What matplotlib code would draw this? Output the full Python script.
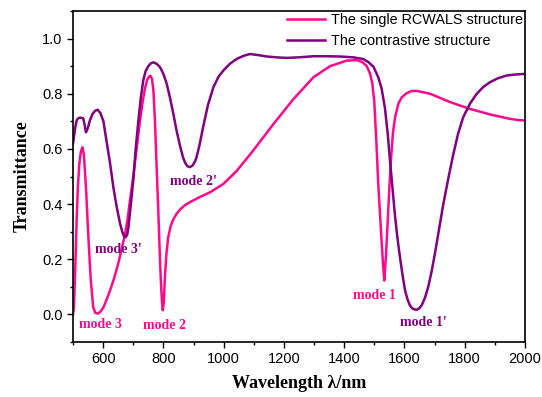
import matplotlib
matplotlib.use('Agg')
import matplotlib.pyplot as plt
from matplotlib.ticker import MultipleLocator

# single RCWALS structure
wl_single = [500, 503, 507, 512, 516, 521, 526, 531, 536, 543, 551, 559, 567, 574, 582, 591,
             601, 612, 623, 636, 650, 662, 673, 681, 689, 700, 711, 722, 731, 739, 746, 752,
             757, 762, 767, 772, 777, 783, 787, 791, 795, 798, 801, 805, 810, 816, 824, 833,
             844, 855, 870, 888, 920, 955, 999, 1043, 1098, 1165, 1231, 1298, 1353, 1408,
             1441, 1460, 1475, 1485, 1493, 1500, 1507, 1513, 1519, 1524, 1529, 1533, 1538,
             1544, 1550, 1555, 1562, 1569, 1580, 1591, 1607, 1624, 1641, 1660, 1685, 1718,
             1751, 1785, 1818, 1851, 1884, 1917, 1950, 1975, 2000]
t_single = [0.0, 0.026, 0.15, 0.34, 0.46, 0.546, 0.59, 0.606, 0.58, 0.46, 0.28, 0.123, 0.026,
            0.006, 0.003, 0.01, 0.026, 0.055, 0.087, 0.13, 0.184, 0.24, 0.292, 0.345, 0.413,
            0.50, 0.60, 0.70, 0.77, 0.82, 0.85, 0.862, 0.865, 0.855, 0.81, 0.70, 0.55, 0.377,
            0.25, 0.135, 0.05, 0.015, 0.04, 0.135, 0.22, 0.28, 0.32, 0.345, 0.365, 0.38,
            0.395, 0.407, 0.425, 0.443, 0.473, 0.52, 0.594, 0.69, 0.78, 0.86, 0.90, 0.92,
            0.922, 0.915, 0.90, 0.875, 0.84, 0.77, 0.62, 0.474, 0.36, 0.268, 0.18, 0.123,
            0.20, 0.329, 0.46, 0.558, 0.66, 0.715, 0.765, 0.787, 0.802, 0.81, 0.81, 0.806,
            0.80, 0.785, 0.77, 0.757, 0.745, 0.735, 0.725, 0.717, 0.709, 0.705, 0.703]

# contrastive structure
wl_contr = [500, 503, 507, 512, 516, 521, 527, 534, 538, 543, 549, 556, 564, 573, 582, 591,
            601, 606, 614, 623, 634, 645, 656, 664, 670, 675, 680, 684, 692, 700, 708, 717,
            725, 733, 741, 750, 758, 767, 778, 789, 800, 811, 822, 833, 844, 855, 865, 872,
            880, 888, 897, 905, 910, 920, 932, 948, 966, 983, 999, 1020, 1043, 1065, 1087,
            1115, 1143, 1175, 1209, 1250, 1298, 1340, 1386, 1430, 1463, 1480, 1497, 1513,
            1524, 1535, 1544, 1552, 1561, 1569, 1577, 1585, 1594, 1602, 1610, 1618, 1626,
            1634, 1641, 1649, 1657, 1668, 1679, 1690, 1701, 1715, 1729, 1745, 1762, 1778,
            1795, 1818, 1840, 1862, 1884, 1910, 1939, 1970, 2000]
t_contr = [0.62, 0.642, 0.675, 0.703, 0.71, 0.713, 0.713, 0.711, 0.69, 0.66, 0.675, 0.703,
           0.725, 0.738, 0.742, 0.73, 0.70, 0.665, 0.61, 0.548, 0.46, 0.39, 0.33, 0.298,
           0.282, 0.28, 0.29, 0.316, 0.40, 0.486, 0.60, 0.703, 0.785, 0.848, 0.882, 0.90,
           0.91, 0.914, 0.908, 0.896, 0.872, 0.836, 0.785, 0.727, 0.665, 0.612, 0.57, 0.55,
           0.537, 0.534, 0.54, 0.555, 0.57, 0.615, 0.68, 0.76, 0.824, 0.862, 0.884, 0.908,
           0.926, 0.937, 0.944, 0.94, 0.935, 0.932, 0.930, 0.932, 0.936, 0.936, 0.935, 0.932,
           0.926, 0.915, 0.898, 0.86, 0.82, 0.75, 0.66, 0.558, 0.45, 0.353, 0.275, 0.208,
           0.14, 0.087, 0.055, 0.033, 0.022, 0.018, 0.017, 0.022, 0.033, 0.06, 0.10, 0.155,
           0.22, 0.31, 0.40, 0.49, 0.58, 0.655, 0.715, 0.765, 0.80, 0.825, 0.842, 0.856,
           0.866, 0.87, 0.872]

pink = '#ff0a8c'
purple = '#800080'

# mode labels: text, x, y, colour
labels = [('mode 3', 590, -0.036, pink), ('mode 2', 805, -0.04, pink),
          ('mode 3\'', 650, 0.235, purple), ('mode 2\'', 899, 0.482, purple),
          ('mode 1', 1502, 0.068, pink), ('mode 1\'', 1662, -0.03, purple)]

serif = ['Liberation Serif', 'DejaVu Serif']
plt.rcParams['font.family'] = ['Liberation Sans', 'DejaVu Sans']

fig = plt.figure(figsize=(5.42, 3.97), dpi=100)
ax = fig.add_axes([0.1347, 0.1385, 0.8339, 0.8338])

ax.plot(wl_single, t_single, color=pink, lw=1.8, solid_joinstyle='round',
        label='The single RCWALS structure')
ax.plot(wl_contr, t_contr, color=purple, lw=1.8, solid_joinstyle='round',
        label='The contrastive structure')

for txt, x, y, c in labels:
    ax.text(x, y, txt, color=c, ha='center', va='center', fontsize=10, fontweight='bold',
            family=serif)

ax.set_xlim(500, 2000)
ax.set_ylim(-0.1, 1.1)
ax.xaxis.set_minor_locator(MultipleLocator(100))
ax.yaxis.set_major_locator(MultipleLocator(0.2))
ax.yaxis.set_minor_locator(MultipleLocator(0.1))
ax.set_xticks(range(600, 2001, 200))
ax.tick_params(which='major', direction='out', length=4, width=1, labelsize=10.5)
ax.tick_params(which='minor', direction='out', length=2.5, width=1)
for s in ax.spines.values():
    s.set_linewidth(1.2)

ax.set_xlabel('Wavelength λ/nm', fontsize=13, fontweight='bold', family=serif, labelpad=6)
ax.set_ylabel('Transmittance', fontsize=13, fontweight='bold', family=serif, labelpad=8)

ax.legend(loc='upper right', frameon=False, fontsize=10.4, handlelength=2.6,
          borderaxespad=0.05, borderpad=0.1, labelspacing=0.45, handletextpad=0.4)

plt.savefig('out.png', dpi=100)
